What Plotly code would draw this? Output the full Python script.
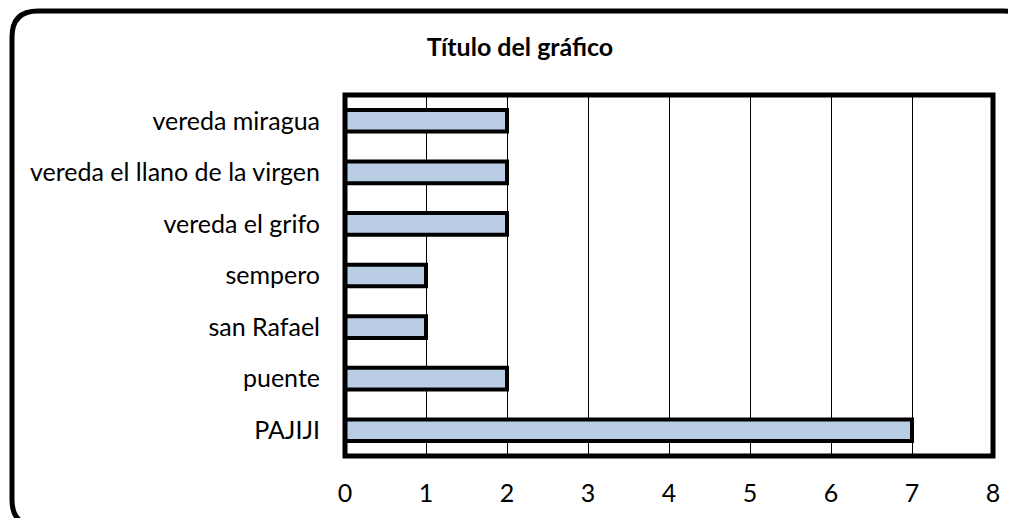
import plotly.graph_objects as go

# datos del gráfico (de abajo hacia arriba)
lugares = ["PAJIJI", "puente", "san Rafael", "sempero",
           "vereda el grifo", "vereda el llano de la virgen", "vereda miragua"]
valores = [7, 2, 1, 1, 2, 2, 2]
ticks_x = [0, 1, 2, 3, 4, 5, 6, 7, 8]

# la página tiene 8px de margen en el body, se descuenta aquí
W, H = 1016, 518
ml, mr, mt, mb = 337, 31, 87, 70
pw, ph = W - ml - mr, H - mt - mb

fig = go.Figure(go.Bar(
    y=lugares, x=valores, orientation="h", width=0.42,
    marker=dict(color="#B9CDE5", line=dict(color="black", width=4)),
))

# marco redondeado alrededor de todo el gráfico
def px2x(p):
    return (p - ml) / pw

def px2y(p):
    return (H - mb - p) / ph

x0, x1 = px2x(4), px2x(1022)
y0, y1 = px2y(518), px2y(3)
rx, ry = 26 / pw, 26 / ph
path = (f"M {x0+rx},{y1} L {x1-rx},{y1} Q {x1},{y1} {x1},{y1-ry} "
        f"L {x1},{y0+ry} Q {x1},{y0} {x1-rx},{y0} L {x0+rx},{y0} "
        f"Q {x0},{y0} {x0},{y0+ry} L {x0},{y1-ry} Q {x0},{y1} {x0+rx},{y1} Z")

fig.update_layout(
    width=W, height=H,
    margin=dict(l=ml, r=mr, t=mt, b=mb),
    paper_bgcolor="white", plot_bgcolor="white",
    font=dict(family="Lato, 'Open Sans', sans-serif", size=25, color="black"),
    title=dict(text="<b>Título del gráfico</b>", x=512 / W, xanchor="center",
               y=1 - 39 / H, yanchor="middle", font=dict(size=25)),
    showlegend=False,
    shapes=[
        dict(type="path", xref="paper", yref="paper", path=path,
             line=dict(color="black", width=5), layer="above"),
        dict(type="rect", xref="paper", yref="paper", x0=0, x1=1, y0=0, y1=1,
             line=dict(color="black", width=5), layer="above"),
    ],
)
fig.update_xaxes(range=[0, 8], tickvals=ticks_x, showgrid=True, gridcolor="black",
                 gridwidth=1, zeroline=False, ticks="", ticklabelstandoff=20)
fig.update_yaxes(ticks="", showgrid=False, ticklabelstandoff=24)

fig.write_html("out.html")
